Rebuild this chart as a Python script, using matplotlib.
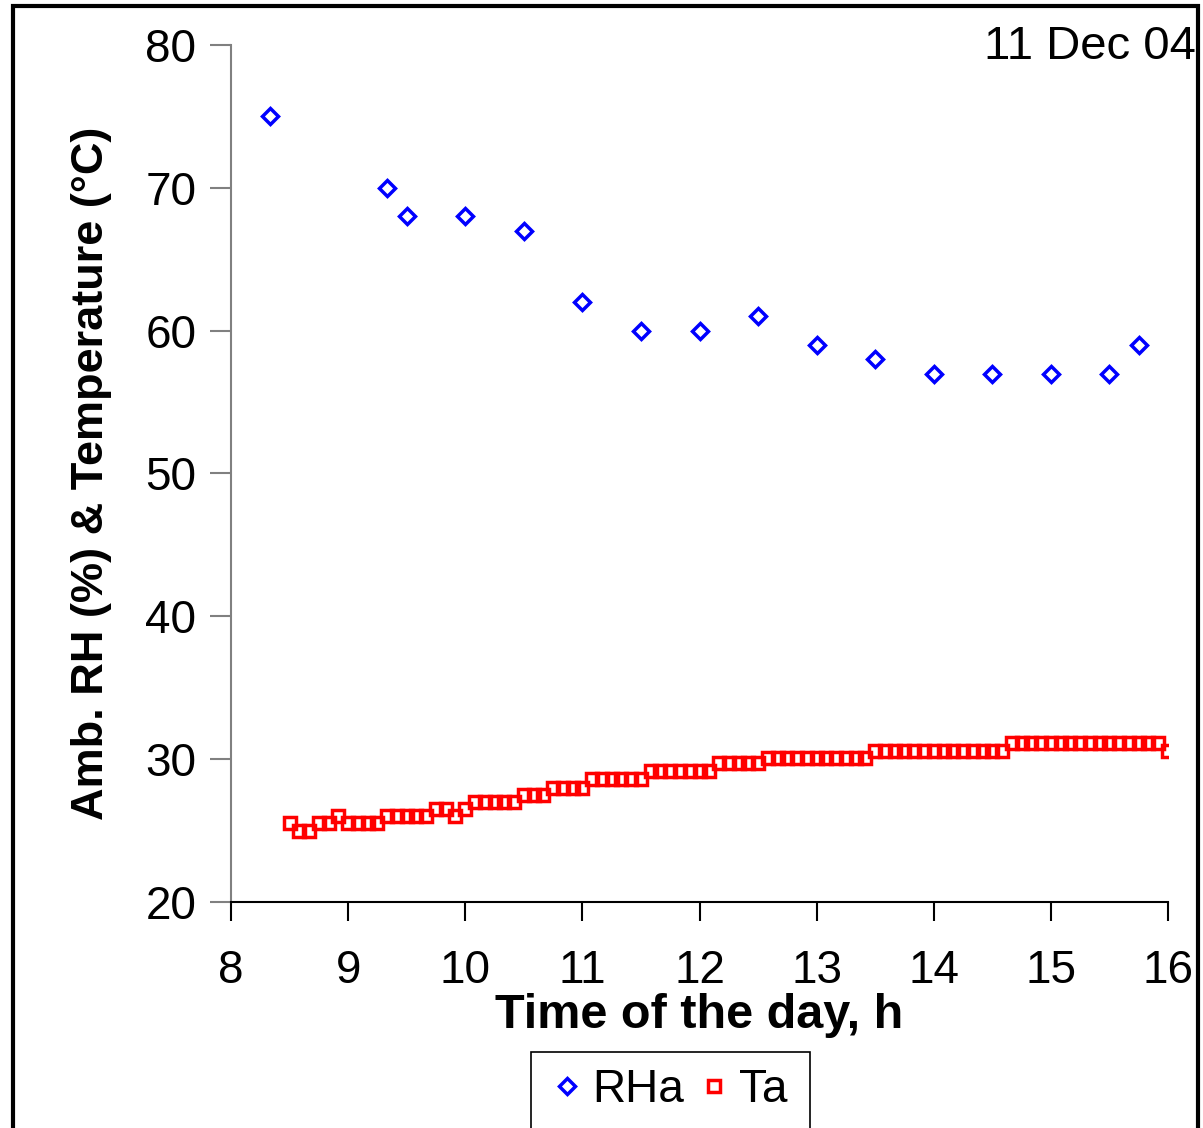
import numpy as np
import matplotlib.pyplot as plt
from matplotlib.patches import Rectangle

plt.rcParams['font.family'] = ['Liberation Sans', 'DejaVu Sans']

# ambient relative humidity, %
rh_time = [8.33, 9.33, 9.5, 10.0, 10.5, 11.0, 11.5, 12.0, 12.5, 13.0, 13.5,
           14.0, 14.5, 15.0, 15.5, 15.75]
rh_vals = [75, 70, 68, 68, 67, 62, 60, 60, 61, 59, 58, 57, 57, 57, 57, 59]

# ambient temperature, every 5 minutes from 8:30 to 16:00
ta_time = 8.5 + np.arange(91) / 12.0
ta_vals = ([25.5, 25.0, 25.0, 25.5, 25.5, 26.0, 25.5, 25.5, 25.5, 25.5,
            26.0, 26.0, 26.0, 26.0, 26.0, 26.5, 26.5, 26.0, 26.5]
           + [27.0] * 5 + [27.5] * 3 + [28.0] * 4 + [28.6] * 6 + [29.2] * 7
           + [29.7] * 5 + [30.1] * 11 + [30.6] * 14 + [31.1] * 16 + [30.6])

fig = plt.figure(figsize=(12.03, 11.28), dpi=100)
ax = fig.add_axes([231 / 1203, 1 - 902 / 1128, (1168 - 231) / 1203, (902 - 45) / 1128])

ax.plot(rh_time, rh_vals, linestyle='none', marker='D', markersize=8,
        markerfacecolor='none', markeredgecolor='#0000ff', markeredgewidth=2.5,
        label='RHa')
ax.plot(ta_time, ta_vals, linestyle='none', marker='s', markersize=9,
        markerfacecolor='none', markeredgecolor='#ff0000', markeredgewidth=2.5,
        label='Ta')

ax.set_xlim(8, 16)
ax.set_ylim(20, 80)
ax.set_xticks(range(8, 17))
ax.set_yticks(range(20, 81, 10))
ax.spines['top'].set_visible(False)
ax.spines['right'].set_visible(False)
ax.spines['left'].set_color('#808080')
ax.spines['left'].set_linewidth(1.5)
ax.spines['bottom'].set_color('black')
ax.spines['bottom'].set_linewidth(1.5)
ax.tick_params(axis='y', direction='out', length=15, width=1.5, color='#808080',
               labelsize=33, pad=10)
ax.tick_params(axis='x', direction='out', length=14, width=1.5, color='black',
               labelsize=33, pad=20)

ax.set_xlabel('Time of the day, h', fontsize=35, fontweight='bold', labelpad=0)
ax.set_ylabel('Amb. RH (%) & Temperature (\u00b0C)', fontsize=32.5,
              fontweight='bold', labelpad=24)

fig.text(1196 / 1203, 1 - 47 / 1128, '11 Dec 04', fontsize=34,
         ha='right', va='center')

# legend box cut by the bottom edge
fig.patches.append(Rectangle((531 / 1203, -0.05), (810 - 531) / 1203,
                             0.05 + 1 - 1052 / 1128, transform=fig.transFigure,
                             fill=False, edgecolor='black', linewidth=1.2))
fig.legend(loc='center', bbox_to_anchor=(673 / 1203, 1 - 1090 / 1128),
           frameon=False, ncol=2, fontsize=33, handlelength=0.4,
           handletextpad=0.35, columnspacing=0.45, markerscale=1.0)

# outer chart border
fig.patches.append(Rectangle((13 / 1203, -0.05), (1198 - 13) / 1203,
                             0.05 + 1 - 6 / 1128, transform=fig.transFigure,
                             fill=False, edgecolor='black', linewidth=3))

fig.savefig('out.png', dpi=100)
